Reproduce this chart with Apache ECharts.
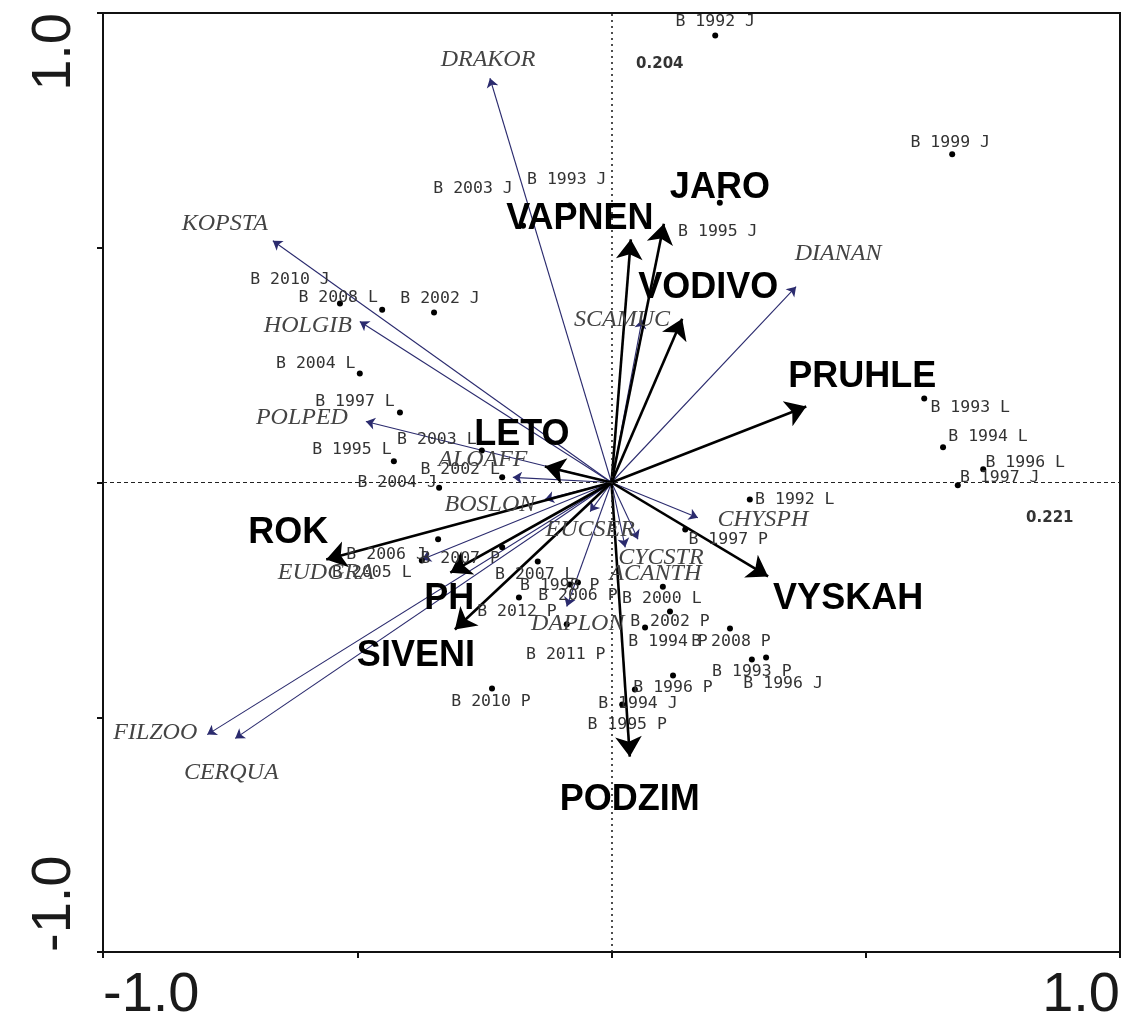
<!DOCTYPE html>
<html>
<head>
<meta charset="utf-8">
<script src="https://cdn.jsdelivr.net/npm/echarts@6/dist/echarts.min.js"></script>
<style>
  html, body { margin: 0; padding: 0; background: #ffffff; }
  #chart { width: 1123px; height: 1035px; }
</style>
</head>
<body>
<div id="chart"></div>
<script>
// ---- CCA ordination scores (axis 1, axis 2) ----

// Samples (site B, year, season)
const sampleNames = [
  'B 1992 J', 'B 1999 J', 'B 2003 J', 'B 1993 J', 'B 1995 J',
  'B 2010 J', 'B 2008 L', 'B 2002 J', 'B 2004 L', 'B 1997 L',
  'B 2003 L', 'B 1995 L', 'B 2002 L', 'B 2004 J', 'B 1992 L',
  'B 1993 L', 'B 1994 L', 'B 1996 L', 'B 1997 J', 'B 1997 P',
  'B 2000 L', 'B 2002 P', 'B 1994 P', 'B 2008 P', 'B 1993 P',
  'B 1996 J', 'B 1996 P', 'B 1994 J', 'B 1995 P', 'B 2010 P',
  'B 2011 P', 'B 2012 P', 'B 2006 P', 'B 1998 P', 'B 2007 L',
  'B 2007 P', 'B 2006 J', 'B 2005 L'
];
const sampleX = [
  0.204, 0.670, -0.174, -0.082, 0.213,
  -0.534, -0.451, -0.349, -0.495, -0.416,
  -0.255, -0.428, -0.215, -0.339, 0.272,
  0.615, 0.652, 0.731, 0.681, 0.145,
  0.101, 0.115, 0.066, 0.233, 0.276,
  0.304, 0.121, 0.046, 0.021, -0.235,
  -0.088, -0.182, -0.066, -0.082, -0.145,
  -0.215, -0.341, -0.373
];
const sampleY = [
  0.952, 0.699, 0.547, 0.590, 0.596,
  0.381, 0.368, 0.362, 0.232, 0.149,
  0.068, 0.045, 0.011, -0.011, -0.036,
  0.179, 0.075, 0.028, -0.006, -0.100,
  -0.222, -0.275, -0.309, -0.311, -0.377,
  -0.373, -0.411, -0.441, -0.473, -0.439,
  -0.302, -0.245, -0.213, -0.217, -0.168,
  -0.138, -0.121, -0.166
];

// Environmental variables
const envNames = ['VAPNEN', 'JARO', 'VODIVO', 'PRUHLE', 'LETO', 'ROK', 'PH', 'SIVENI', 'PODZIM', 'VYSKAH'];
const envX = [0.038, 0.103, 0.139, 0.383, -0.131, -0.561, -0.317, -0.308, 0.036, 0.308];
const envY = [0.518, 0.551, 0.349, 0.162, 0.034, -0.164, -0.192, -0.313, -0.584, -0.200];

// Species
const speciesNames = ['DRAKOR', 'KOPSTA', 'HOLGIB', 'POLPED', 'ALOAFF', 'BOSLON', 'EUCSER', 'CYCSTR',
  'ACANTH', 'CHYSPH', 'DAPLON', 'EUDGRA', 'FILZOO', 'CERQUA', 'DIANAN', 'SCAMUC'];
const speciesX = [-0.239, -0.666, -0.495, -0.483, -0.194, -0.131, -0.042, 0.052,
  0.027, 0.170, -0.088, -0.373, -0.795, -0.740, 0.363, 0.060];
const speciesY = [0.861, 0.515, 0.343, 0.130, 0.011, -0.036, -0.062, -0.121,
  -0.138, -0.075, -0.264, -0.164, -0.537, -0.545, 0.417, 0.347];

// Eigenvalue notes
const noteTexts = ['0.204', '0.221'];
const noteX = [0.095, 0.862];
const noteY = [0.892, -0.075];

// Labelled axis ticks
const tickLabels = [-1.0, 1.0];

// ---- label placement (pixel offsets from the point) ----
const sampleLabelShift = {
  'B 1992 J': [0, -14], 'B 1999 J': [-2, -12], 'B 2003 J': [-50, -37], 'B 1993 J': [-3, -26],
  'B 1995 J': [-2, 29], 'B 2010 J': [-50, -24], 'B 2008 L': [-44, -12], 'B 2002 J': [6, -14],
  'B 2004 L': [-44, -10], 'B 1997 L': [-45, -11], 'B 2003 L': [-45, -11], 'B 1995 L': [-42, -12],
  'B 2002 L': [-42, -8], 'B 2004 J': [-42, -5], 'B 1992 L': [45, 0], 'B 1993 L': [46, 9],
  'B 1994 L': [45, -11], 'B 1996 L': [42, -7], 'B 1997 J': [42, -8], 'B 1997 P': [43, 10],
  'B 2000 L': [-1, 12], 'B 2002 P': [0, 10], 'B 1994 P': [23, 14], 'B 2008 P': [1, 13],
  'B 1993 P': [0, 12], 'B 1996 J': [17, 26], 'B 1996 P': [0, 12], 'B 1994 J': [3, 14],
  'B 1995 P': [5, 20], 'B 2010 P': [-1, 13], 'B 2011 P': [-1, 30], 'B 2012 P': [-2, 14],
  'B 2006 P': [0, 13], 'B 1998 P': [-10, 1], 'B 2007 L': [-3, 13], 'B 2007 P': [-42, 11],
  'B 2006 J': [-52, 15], 'B 2005 L': [-50, 12]
};
const envLabelShift = {
  VAPNEN: [-51, -20], JARO: [56, -36], VODIVO: [26, -31], PRUHLE: [56, -29], LETO: [-23, -31],
  ROK: [-38, -26], PH: [-1, 26], SIVENI: [-39, 27], PODZIM: [0, 43], VYSKAH: [80, 23]
};
const speciesLabelShift = {
  DRAKOR: [-2, -19], KOPSTA: [-48, -17], HOLGIB: [-52, 4], POLPED: [-64, -4], ALOAFF: [-30, -18],
  BOSLON: [-55, 5], EUCSER: [0, 18], CYCSTR: [23, 18], ACANTH: [30, 26], CHYSPH: [65, 2],
  DAPLON: [11, 17], EUDGRA: [-96, 13], FILZOO: [-52, -2], CERQUA: [-4, 34], DIANAN: [42, -33],
  SCAMUC: [-20, 0]
};

// ---- build series data ----
const arrowLines = (xs, ys) => xs.map((x, i) => ({ coords: [[0, 0], [x, ys[i]]] }));

const labelPoints = (names, xs, ys, shifts) => names.map((n, i) => ({
  name: n,
  value: [xs[i], ys[i]],
  label: { offset: shifts[n] || [0, 0] }
}));

const sampleData = labelPoints(sampleNames, sampleX, sampleY, sampleLabelShift);
const envLabelData = labelPoints(envNames, envX, envY, envLabelShift);
const speciesLabelData = labelPoints(speciesNames, speciesX, speciesY, speciesLabelShift);
const noteData = noteTexts.map((t, i) => ({ name: t, value: [noteX[i], noteY[i]] }));

const isTick = v => tickLabels.some(t => Math.abs(t - v) < 1e-9);

const textLayer = (z, labelStyle, data) => ({
  type: 'scatter', z, symbolSize: 0, silent: true,
  itemStyle: { opacity: 1 },
  label: Object.assign({ show: true, position: 'inside', formatter: '{b}', opacity: 1 }, labelStyle),
  emphasis: { disabled: true },
  data
});

const chart = echarts.init(document.getElementById('chart'), null, { renderer: 'canvas' });

chart.setOption({
  animation: false,
  backgroundColor: '#ffffff',
  grid: {
    left: 103, right: 3, top: 13, bottom: 83,
    show: true, borderColor: '#111', borderWidth: 2, backgroundColor: 'transparent'
  },
  xAxis: {
    type: 'value', min: -1, max: 1, interval: 0.5,
    axisLine: { show: true, onZero: false, lineStyle: { color: '#111', width: 2 } },
    axisTick: { show: true, length: 6, lineStyle: { color: '#111', width: 2 } },
    splitLine: { show: false },
    axisLabel: {
      show: true, margin: 16, fontFamily: 'Liberation Sans', fontSize: 56, color: '#1a1a1a',
      alignMinLabel: 'left', alignMaxLabel: 'right', showMinLabel: true, showMaxLabel: true,
      formatter: v => isTick(v) ? v.toFixed(1) : ''
    }
  },
  yAxis: {
    type: 'value', min: -1, max: 1, interval: 0.5,
    axisLine: { show: true, onZero: false, lineStyle: { color: '#111', width: 2 } },
    axisTick: { show: true, length: 6, lineStyle: { color: '#111', width: 2 } },
    splitLine: { show: false },
    axisLabel: {
      show: true, margin: 20, rotate: 90, fontFamily: 'Liberation Sans', fontSize: 56, color: '#1a1a1a',
      alignMinLabel: 'left', alignMaxLabel: 'right', showMinLabel: true, showMaxLabel: true,
      formatter: v => isTick(v) ? v.toFixed(1) : ''
    }
  },
  series: [
    // species vectors
    {
      type: 'lines', coordinateSystem: 'cartesian2d', z: 2,
      symbol: ['none', 'arrow'], symbolSize: 9,
      lineStyle: { color: '#2b2b6e', width: 1.1, opacity: 1, curveness: 0 },
      data: arrowLines(speciesX, speciesY),
      markLine: {
        silent: true, symbol: 'none', label: { show: false },
        data: [
          { xAxis: 0, lineStyle: { color: '#222', width: 1.6, type: [2, 4] } },
          { yAxis: 0, lineStyle: { color: '#222', width: 1.2, type: [4, 3] } }
        ]
      }
    },
    // environmental vectors
    {
      type: 'lines', coordinateSystem: 'cartesian2d', z: 3,
      symbol: ['none', 'arrow'], symbolSize: [12, 20],
      lineStyle: { color: '#000', width: 2.6, opacity: 1, curveness: 0 },
      data: arrowLines(envX, envY)
    },
    // sample points
    {
      type: 'scatter', z: 4, symbol: 'circle', symbolSize: 6,
      itemStyle: { color: '#000', opacity: 1 },
      emphasis: { disabled: true },
      label: {
        show: true, position: 'inside', formatter: '{b}', opacity: 1,
        fontFamily: 'DejaVu Sans Mono', fontSize: 16.5, color: '#333'
      },
      data: sampleData
    },
    // species names
    textLayer(5, { fontFamily: 'Liberation Serif', fontStyle: 'italic', fontSize: 24, color: '#444' }, speciesLabelData),
    // environmental variable names
    textLayer(6, { fontFamily: 'Liberation Sans', fontWeight: 'bold', fontSize: 36, color: '#000' }, envLabelData),
    // eigenvalue notes
    textLayer(6, { fontFamily: 'DejaVu Sans', fontWeight: 'bold', fontSize: 15, color: '#333' }, noteData)
  ]
});
</script>
</body>
</html>
